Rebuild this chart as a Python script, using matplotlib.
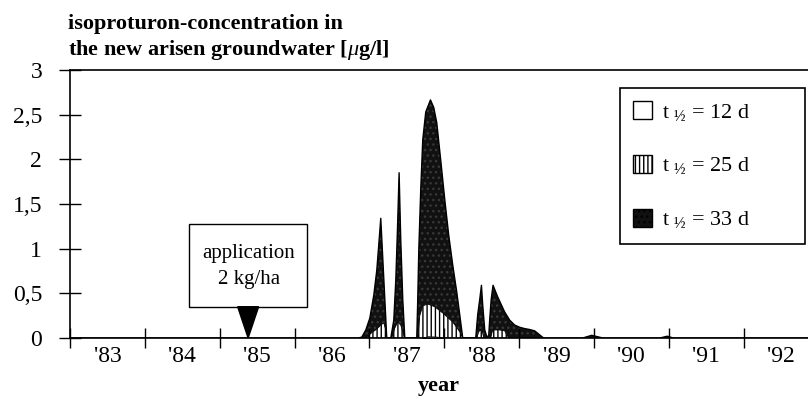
import matplotlib
matplotlib.use("Agg")
import matplotlib.pyplot as plt
from matplotlib.patches import Patch, Polygon, Rectangle

plt.rcParams['font.family'] = ['Liberation Serif', 'DejaVu Serif']
plt.rcParams['mathtext.fontset'] = 'custom'
plt.rcParams['mathtext.rm'] = 'Liberation Serif'
plt.rcParams['mathtext.it'] = 'Liberation Serif:italic'
plt.rcParams['mathtext.bf'] = 'Liberation Serif:bold'

# half-life 33 d (black)
yr33 = [1983.0, 1986.85, 1986.899, 1986.952, 1987.005, 1987.059, 1987.099, 1987.125, 1987.152, 1987.192, 1987.232,
        1987.286, 1987.326, 1987.353, 1987.379, 1987.397, 1987.419, 1987.446, 1987.473,
        1987.633, 1987.646, 1987.660, 1987.686, 1987.713, 1987.753, 1987.816, 1987.860, 1987.900, 1987.953,
        1988.007, 1988.060, 1988.113, 1988.167, 1988.207, 1988.247,
        1988.421, 1988.447, 1988.474, 1988.497, 1988.514, 1988.541, 1988.567, 1988.594, 1988.607, 1988.627,
        1988.652, 1988.714, 1988.808, 1988.874, 1988.941, 1989.008, 1989.075, 1989.141, 1989.208, 1989.275, 1989.328,
        1989.85, 1989.97, 1990.12, 1990.88, 1990.98, 1991.06, 1993.0]
c33 = [0, 0, 0.01, 0.09, 0.22, 0.48, 0.76, 1.04, 1.34, 0.67, 0,
       0, 0.2, 0.65, 1.32, 1.85, 1.10, 0.43, 0,
       0, 0.43, 0.985, 1.66, 2.22, 2.53, 2.665, 2.58, 2.41, 1.99,
       1.55, 1.15, 0.82, 0.515, 0.26, 0,
       0, 0.26, 0.43, 0.59, 0.37, 0.09, 0.02, 0.02, 0.2, 0.43,
       0.59, 0.46, 0.29, 0.2, 0.145, 0.12, 0.105, 0.095, 0.08, 0.035, 0,
       0, 0.03, 0, 0, 0.02, 0, 0]

# half-life 25 d (vertical hatch)
yr25 = [1986.952, 1987.032, 1987.099, 1987.152, 1987.192, 1987.219, 1987.232,
        1987.299, 1987.339, 1987.379, 1987.419, 1987.446, 1987.466,
        1987.646, 1987.673, 1987.713, 1987.780, 1987.873, 1987.980, 1988.113, 1988.207, 1988.247,
        1988.434, 1988.461, 1988.487, 1988.514, 1988.527,
        1988.621, 1988.647, 1988.741, 1988.808, 1988.861]
c25 = [0, 0.06, 0.10, 0.145, 0.17, 0.09, 0,
       0, 0.11, 0.18, 0.145, 0.07, 0,
       0, 0.25, 0.36, 0.38, 0.35, 0.28, 0.18, 0.07, 0,
       0, 0.07, 0.09, 0.055, 0,
       0, 0.09, 0.09, 0.08, 0]

# half-life 12 d (white)
yr12 = [1987.70, 1987.78, 1987.90, 1988.00]
c12 = [0, 0.02, 0.015, 0]

years = list(range(1983, 1993))
year_labels = ["'83", "'84", "'85", "'86", "'87", "'88", "'89", "'90", "'91", "'92"]
yticks = [0, 0.5, 1, 1.5, 2, 2.5, 3]
ylabels = ['0', '0,5', '1', '1,5', '2', '2,5', '3']
app_year = 1985.38

fig = plt.figure(figsize=(8.08, 3.96), dpi=100)
ax = fig.add_axes([70/808, 1-338/396, 738/808, 268/396])

ax.fill_between(yr33, c33, facecolor='#111111', edgecolor='#383838', hatch='...', linewidth=0)
ax.plot(yr33, c33, color='black', lw=1)
ax.fill_between(yr25, c25, facecolor='white', edgecolor='black', hatch='||||', linewidth=0.6)
ax.fill_between(yr12, c12, facecolor='white', edgecolor='black', linewidth=0.6)

ax.set_xlim(1983, 1992.86)
ax.set_ylim(0, 3)

ax.set_xticks(years)
ax.set_xticklabels([])
ax.set_xticks([y + 0.5 for y in years], minor=True)
ax.set_xticklabels(year_labels, minor=True, fontsize=17)
ax.tick_params(axis='x', which='major', direction='inout', length=15, width=1)
ax.tick_params(axis='x', which='minor', length=0, pad=6)
ax.set_yticks(yticks)
ax.set_yticklabels(ylabels, fontsize=17)
ax.tick_params(axis='y', direction='inout', length=16, width=1, pad=12)

ax.spines['right'].set_visible(False)
for s in ['left', 'bottom', 'top']:
    ax.spines[s].set_linewidth(1.2)

ax.set_xlabel('year', fontsize=16, fontweight='bold', labelpad=6)
fig.text(68/808, 1-29/396, 'isoproturon-concentration in', fontsize=16, fontweight='bold',
         ha='left', va='baseline')
fig.text(68/808, 1-55/396, 'the new arisen groundwater [$\\mathit{\\mu}$g/l]', fontsize=16, fontweight='bold',
         ha='left', va='baseline')

# application marker: box, text and arrow head
ax.add_patch(Rectangle((app_year - 0.79, 0.347), 1.575, 0.93, facecolor='white', edgecolor='black', lw=1))
ax.text(app_year + 0.01, 0.80, 'application\n2 kg/ha', fontsize=15, ha='center', va='center', linespacing=1.5)
ax.add_patch(Polygon([[app_year - 0.14, 0.35], [app_year + 0.14, 0.35], [app_year, 0]],
                     closed=True, facecolor='black', edgecolor='black', clip_on=False))

handles = [Patch(facecolor='white', edgecolor='black'),
           Patch(facecolor='white', edgecolor='black', hatch='||||'),
           Patch(facecolor='#111111', edgecolor='black', hatch='...')]
labels = ['t $_{\\mathrm{½}}$ = 12 d', 't $_{\\mathrm{½}}$ = 25 d', 't $_{\\mathrm{½}}$ = 33 d']
leg = ax.legend(handles, labels, loc='upper left', bbox_to_anchor=(0.745, 0.833, 0.251, 0.1), mode='expand',
                borderaxespad=0, fontsize=16, labelspacing=1.45, borderpad=0.6, handlelength=0.85,
                handleheight=0.85, handletextpad=0.45, fancybox=False, framealpha=1)
leg.get_frame().set_edgecolor('black')
leg.get_frame().set_linewidth(1.2)

fig.savefig('out.png', dpi=100)
